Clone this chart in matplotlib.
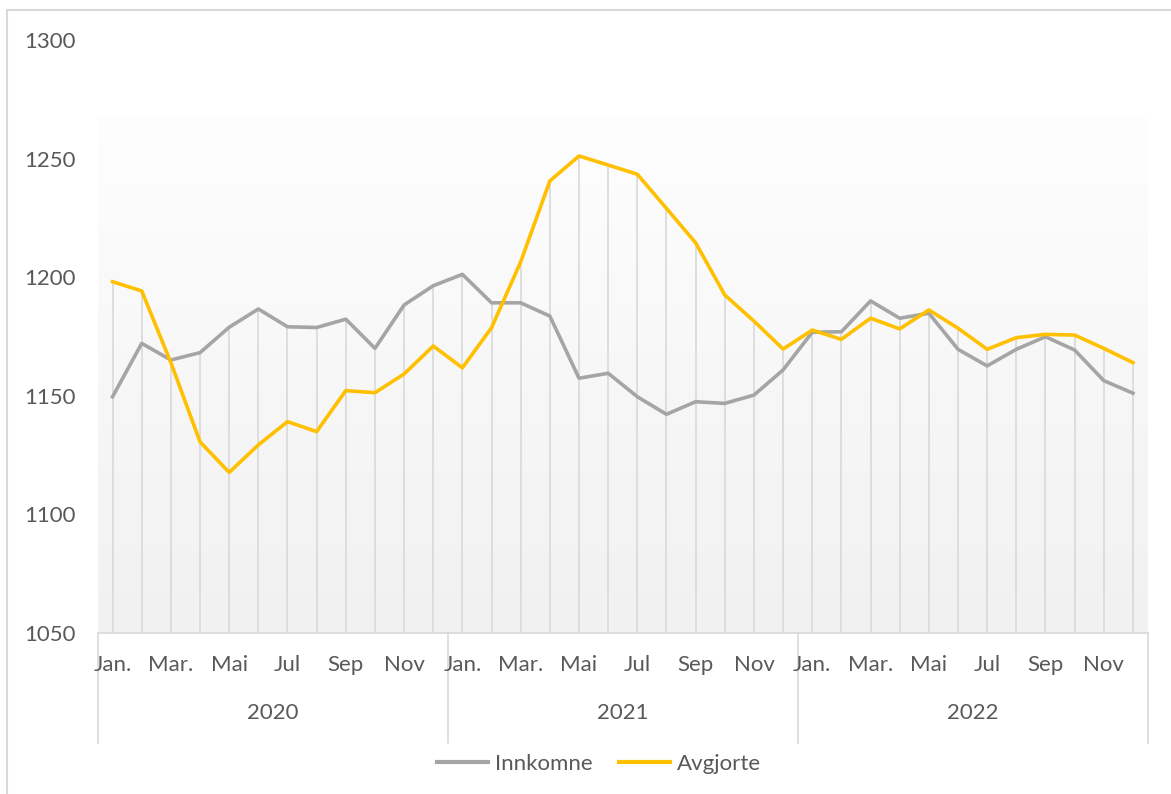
import numpy as np
import matplotlib.pyplot as plt
from matplotlib.lines import Line2D

plt.rcParams['font.family'] = ['Lato', 'DejaVu Sans']

years = ['2020', '2021', '2022']
months = ['Jan.', 'Feb.', 'Mar.', 'Apr.', 'Mai', 'Jun', 'Jul', 'Aug', 'Sep', 'Okt', 'Nov', 'Des']

innkomne = [1149.6, 1172.1, 1165.1, 1168.2, 1178.9, 1186.6, 1179.1, 1178.8, 1182.3, 1170.0, 1188.3, 1196.4,
            1201.2, 1189.2, 1189.2, 1183.6, 1157.4, 1159.5, 1149.6, 1142.2, 1147.5, 1146.8, 1150.3, 1160.9,
            1176.8, 1177.0, 1190.0, 1182.7, 1184.8, 1169.6, 1162.6, 1169.6, 1174.9, 1169.3, 1156.4, 1151.1]
avgjorte = [1198.1, 1194.2, 1164.0, 1130.6, 1117.7, 1129.3, 1139.1, 1134.9, 1152.2, 1151.3, 1159.2, 1171.0,
            1161.8, 1178.7, 1206.5, 1240.6, 1251.1, 1247.3, 1243.4, 1229.0, 1214.5, 1192.5, 1181.5, 1169.7,
            1177.7, 1173.8, 1182.7, 1178.2, 1186.2, 1178.5, 1169.6, 1174.5, 1175.9, 1175.6, 1170.0, 1164.0]

n = len(innkomne)
x = np.arange(n)
W, H = 1171, 794
FS = 16

fig = plt.figure(figsize=(W / 100, H / 100), dpi=100)
ax = fig.add_axes([98 / W, 1 - 633 / H, (1147.5 - 98) / W, (633 - 40) / H])
ax.set_xlim(-0.5, n - 0.5)
ax.set_ylim(1050, 1300)

# gradient fill of the plot area (white at top -> light gray at bottom)
grad = np.linspace(0, 1, 256).reshape(-1, 1)
top_c = np.array([0.995, 0.995, 0.995])
bot_c = np.array([0.945, 0.945, 0.945])
img = top_c + (bot_c - top_c) * grad
ax.imshow(img[:, None, :].repeat(2, axis=1), extent=(-0.5, n - 0.5, 1050, 1267.5),
          aspect='auto', zorder=0, origin='upper')

# drop lines
tops = np.maximum(innkomne, avgjorte)
ax.vlines(x, 1050, tops, color='#d9d9d9', linewidth=1.2, zorder=1)

ax.plot(x, innkomne, color='#a5a5a5', linewidth=2.6, solid_joinstyle='round', zorder=3)
ax.plot(x, avgjorte, color='#ffc000', linewidth=2.6, solid_joinstyle='round', zorder=4)

for s in ['top', 'right', 'left']:
    ax.spines[s].set_visible(False)
ax.spines['bottom'].set_color('#d9d9d9')
ax.spines['bottom'].set_linewidth(1.2)

ax.set_yticks([1050, 1100, 1150, 1200, 1250, 1300])
ax.tick_params(axis='y', length=0, labelsize=FS, labelcolor='#595959', pad=16)
ax.set_xticks([])

# month labels (every other month) and year labels
for i in range(0, n, 2):
    ax.text(i, 1050 - 32 / 2.372, months[i % 12], ha='center', va='center',
            fontsize=FS, color='#595959', clip_on=False)
for k, yr in enumerate(years):
    ax.text(k * 12 + 5.5, 1050 - 80 / 2.372, yr, ha='center', va='center',
            fontsize=FS, color='#595959', clip_on=False)
for k in range(len(years) + 1):
    ax.plot([k * 12 - 0.5] * 2, [1050, 1050 - 110 / 2.372], color='#d9d9d9',
            linewidth=1.2, clip_on=False)

# legend
handles = [Line2D([], [], color='#a5a5a5', linewidth=3),
           Line2D([], [], color='#ffc000', linewidth=3)]
fig.legend(handles, ['Innkomne', 'Avgjorte'], loc='center', bbox_to_anchor=(599 / W, 1 - 764 / H),
           ncol=2, frameon=False, fontsize=FS, labelcolor='#595959', handlelength=2.3,
           handletextpad=0.3, columnspacing=1.2)

# outer chart border
fig.add_artist(Line2D([7 / W, 7 / W], [0, 1 - 10 / H], color='#d9d9d9', linewidth=1.5))
fig.add_artist(Line2D([7 / W, 1], [1 - 10 / H, 1 - 10 / H], color='#d9d9d9', linewidth=1.5))

fig.savefig('out.png', dpi=100)
